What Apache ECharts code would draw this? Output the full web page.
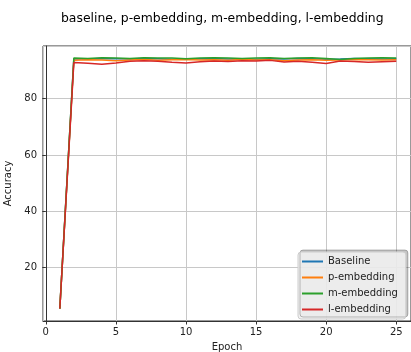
<!DOCTYPE html>
<html>
<head>
<meta charset="utf-8">
<script src="https://cdn.jsdelivr.net/npm/echarts@6/dist/echarts.min.js"></script>
<style>
  html, body { margin: 0; padding: 0; background: #fff; }
  #chart { width: 411px; height: 352px; }
</style>
</head>
<body>
<div id="chart"></div>
<script>
// epochs 1..25
const epochs = [1, 2, 3, 4, 5, 6, 7, 8, 9, 10, 11, 12, 13, 14, 15, 16, 17, 18, 19, 20, 21, 22, 23, 24, 25]

const baseline = [5.5, 94.2, 94.1, 94.3, 94.2, 94.1, 94.3, 94.2, 94.0, 94.1, 94.2, 94.3, 94.1, 94.2, 94.0, 94.2, 94.1, 94.3, 94.2, 94.0, 94.1, 94.3, 94.2, 94.1, 94.2]
const pEmbedding = [5.5, 93.6, 93.8, 93.7, 93.5, 93.7, 93.9, 93.6, 93.8, 93.9, 93.7, 93.8, 93.6, 93.9, 93.7, 93.8, 93.5, 93.7, 93.8, 93.6, 93.7, 93.9, 93.8, 93.7, 93.8]
const mEmbedding = [5.5, 94.4, 94.3, 94.5, 94.4, 94.3, 94.5, 94.4, 94.4, 94.2, 94.4, 94.5, 94.4, 94.3, 94.4, 94.5, 94.3, 94.4, 94.5, 94.3, 93.9, 94.3, 94.4, 94.5, 94.4]
const lEmbedding = [5.5, 92.8, 92.6, 92.2, 92.7, 93.3, 93.5, 93.3, 92.9, 92.7, 93.1, 93.4, 93.2, 93.5, 93.4, 93.6, 93.0, 93.3, 92.9, 92.5, 93.4, 93.2, 92.9, 93.1, 93.3]

const seriesNames = ['Baseline', 'p-embedding', 'm-embedding', 'l-embedding']
const seriesData = [baseline, pEmbedding, mEmbedding, lEmbedding]
const colors = ['#1f77b4', '#ff7f0e', '#2ca02c', '#d62728']

const font = 'DejaVu Sans'

const myEcharts = echarts.init(document.getElementById('chart'))
myEcharts.setOption({
  animation: false,
  color: colors,
  title: {
    text: 'baseline, p-embedding, m-embedding, l-embedding',
    left: 56,
    top: 8,
    textStyle: { fontFamily: font, fontSize: 12.4, fontWeight: 'normal', color: '#000' }
  },
  grid: {
    left: 43,
    right: 0,
    top: 46,
    bottom: 31,
    outerBoundsMode: 'none',
    containLabel: false,
    show: true,
    borderColor: '#333',
    borderWidth: 1
  },
  legend: {
    orient: 'vertical',
    left: 298,
    top: 252,
    data: seriesNames,
    icon: 'rect',
    itemWidth: 21,
    itemHeight: 2,
    itemGap: 5,
    padding: [4, 8, 4, 4],
    backgroundColor: 'rgba(240,240,240,0.9)',
    borderColor: '#cccccc',
    borderWidth: 1,
    borderRadius: 3,
    shadowColor: 'rgba(0,0,0,0.25)',
    shadowOffsetX: 2,
    shadowOffsetY: -2,
    textStyle: { fontFamily: font, fontSize: 10, color: '#222', lineHeight: 11 }
  },
  xAxis: {
    type: 'value',
    min: -0.2,
    max: 26.05,
    name: 'Epoch',
    nameLocation: 'middle',
    nameGap: 21,
    nameTextStyle: { fontFamily: font, fontSize: 10, color: '#222' },
    axisLine: { show: true, lineStyle: { color: '#333' } },
    axisTick: { show: true, length: 3.5, lineStyle: { color: '#333' } },
    axisLabel: {
      fontFamily: font, fontSize: 10, color: '#222', margin: 6,
      showMinLabel: false, showMaxLabel: false
    },
    splitLine: { show: true, lineStyle: { color: '#c8c8c8', width: 1 } }
  },
  yAxis: {
    type: 'value',
    min: 1.1,
    max: 98.7,
    name: 'Accuracy',
    nameLocation: 'middle',
    nameGap: 23,
    nameTextStyle: { fontFamily: font, fontSize: 10, color: '#222' },
    axisLine: { show: true, lineStyle: { color: '#333' } },
    axisTick: { show: true, length: 3.5, lineStyle: { color: '#333' } },
    axisLabel: {
      fontFamily: font, fontSize: 10, color: '#222', margin: 6,
      showMinLabel: false, showMaxLabel: false
    },
    splitLine: { show: true, lineStyle: { color: '#c8c8c8', width: 1 } }
  },
  series: seriesNames.map((name, i) => ({
    name: name,
    type: 'line',
    symbol: 'none',
    lineStyle: { width: 1.5, color: colors[i] },
    data: epochs.map((e, j) => [e, seriesData[i][j]])
  }))
})
</script>
</body>
</html>
